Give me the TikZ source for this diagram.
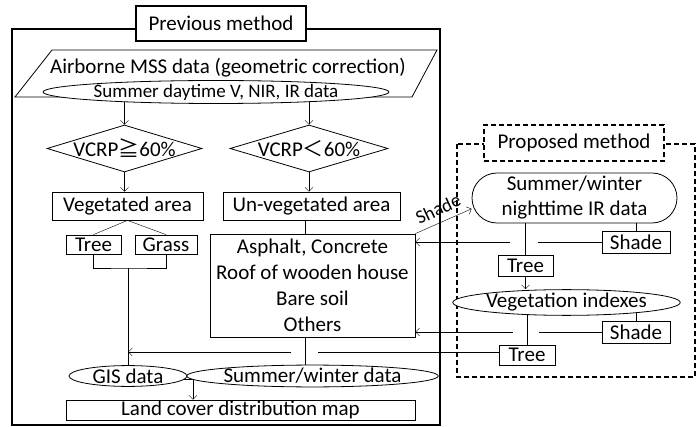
\documentclass[tikz,border=0pt]{standalone}
\usepackage{fontspec}
\setmainfont{Carlito}
\newfontfamily\cjksym{Noto Sans CJK JP}
\usetikzlibrary{shapes.geometric,arrows.meta,calc}
\pgfdeclarelayer{bg}
\pgfsetlayers{bg,main}
\begin{document}
\begin{tikzpicture}[x=1pt,y=-1pt,
  line width=0.8pt,
  >={Straight Barb[length=4pt,width=8pt]},
  every node/.style={font=\fontsize{21}{24}\selectfont, inner sep=0pt},
  sz/.style 2 args={minimum width=#1, minimum height=#2},
  box/.style={draw, fill=white, rectangle},
  ell/.style={draw, fill=white, ellipse},
  dia/.style={draw, fill=white, diamond},
  frame/.style={line width=1.8pt},
  small/.style={font=\fontsize{19}{22}\selectfont}
]
\useasboundingbox (0,0) rectangle (698,427);

% previous method frame
\draw[frame] (12,29) rectangle (440,425);
\node[box, sz={170}{35}, line width=1.6pt] (prev) at (221,23.5) {Previous method};

% airborne parallelogram
\draw (52,50) -- (437,50) -- (412,97) -- (15,97) -- cycle;
\node (mss) at (228,68) {Airborne MSS data (geometric correction)};
\node[ell, sz={300}{20}, small] (sday) at (216,92) {Summer daytime V, NIR, IR data};

% diamonds
\node[dia, sz={155}{47}] (d1) at (124.5,148.5) {};
\node (d1t) at (d1) {VCRP{\cjksym ≧}60\%};
\node[dia, sz={158}{47}] (d2) at (309,148.5) {};
\node (d2t) at (d2) {VCRP{\cjksym ＜}60\%};

% area boxes
\node[box, sz={151}{28}] (veg) at (127.5,206) {Vegetated area};
\node[box, sz={177}{28}] (unveg) at (311.5,206) {Un-vegetated area};
\node[box, sz={55}{19}] (tree1) at (93.5,244.5) {Tree};
\node[box, sz={62}{19}] (grass) at (166,244.5) {Grass};
\node[box, sz={205}{103}, align=center, font=\fontsize{21}{26}\selectfont] (asph) at (312.5,285.5)
  {Asphalt, Concrete\\Roof of wooden house\\Bare soil\\Others};

\node[ell, sz={118}{20}] (gis) at (128,376) {GIS data};
\node[ell, sz={221}{20}] (swdata) at (312.5,376) {Summer/winter data};
\node[box, sz={349}{20}] (land) at (240.5,410) {Land cover distribution map};

% proposed method frame
\draw[frame, dash pattern=on 5pt off 3pt] (457,144) rectangle (695,377);
\node[box, sz={180}{36}, line width=1.6pt, dash pattern=on 5pt off 3pt] (prop) at (574,143) {Proposed method};

\node[draw, fill=white, rounded corners=25pt, sz={205}{50}, align=center, font=\fontsize{21}{25}\selectfont] (night) at (574.5,198)
  {Summer/winter\\nighttime IR data};
\node[box, sz={55}{21}] (treeA) at (525.5,265.5) {Tree};
\node[box, sz={68}{22}] (shade1) at (636,242) {Shade};
\node[ell, sz={207}{21}] (vegidx) at (566.5,302.5) {Vegetation indexes};
\node[box, sz={68}{22}] (shade2) at (636,332) {Shade};
\node[box, sz={56}{20}] (treeB) at (527,355) {Tree};

% helper coordinates
\coordinate (x305) at (305,0);
\coordinate (tg) at (128,268);
\coordinate (ga) at (318,352);
\coordinate (gb) at (291,352);
\coordinate (tgl) at (128,352);
\coordinate (gj) at (193,379);
\coordinate (s1a) at (538,242);
\coordinate (s1b) at (510,242);
\coordinate (s2a) at (539,332);
\coordinate (s2b) at (513,332);

\begin{pgfonlayer}{bg}
  \draw[->] (sday.center -| d1.north) -- (d1.north);
  \draw[->] (sday.center -| d2.north) -- (d2.north);
  \draw[->] (d1.south) -- (d1.south |- veg.north);
  \draw[->] (d2.south) -- (d2.south |- unveg.north);
  \draw (veg.south) -- (tree1.north);
  \draw (veg.south) -- (grass.north);
  \draw (tree1.south) |- (tg) -| (grass.south);
  \draw (tg) -- (gis.north);
  \draw (unveg.south -| x305) -- (asph.north -| x305);
  \draw (asph.south -| x305) -- (swdata.center -| x305);
  \draw (gis.center |- gj) -- (swdata.center |- gj);
  \draw[->] (gj) -- (gj |- land.north);
  % proposed connectors
  \draw[->] (asph.north east) -- (night.186);
  \draw (night.south -| treeA.north) -- (treeA.north);
  \draw (night.south -| shade1.north) -- (shade1.north);
  \draw (shade1.west) -- (s1a);
  \draw[->] (s1b) -- (asph.east |- s1b);
  \draw (vegidx.center -| shade2.north) -- (shade2.north);
  \draw (vegidx.center -| treeB.north) -- (treeB.north);
  \draw (shade2.west) -- (s2a);
  \draw[->] (s2b) -- (asph.east |- s2b);
  \draw (treeB.west |- ga) -- (ga);
  \draw[->] (gb) -- (tgl);
\end{pgfonlayer}
\node[small, rotate=25] (shadelbl) at (438,209) {Shade};
\draw[->] (treeA.south) -- (treeA.south |- vegidx.north);
\end{tikzpicture}
\end{document}
